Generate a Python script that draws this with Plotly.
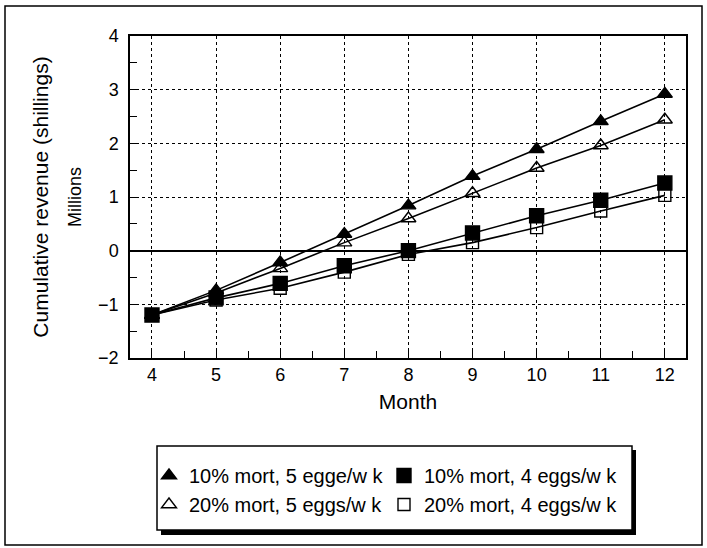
import plotly.graph_objects as go

months = [4, 5, 6, 7, 8, 9, 10, 11, 12]
mort10_5eggs = [-1.2, -0.74, -0.22, 0.31, 0.84, 1.39, 1.89, 2.41, 2.92]
mort10_4eggs = [-1.2, -0.88, -0.61, -0.28, 0.0, 0.33, 0.65, 0.94, 1.26]
mort20_5eggs = [-1.2, -0.79, -0.33, 0.15, 0.60, 1.07, 1.54, 1.96, 2.44]
mort20_4eggs = [-1.2, -0.92, -0.70, -0.40, -0.07, 0.15, 0.43, 0.74, 1.03]

names = ["10% mort, 5 egge/w k", "10% mort, 4 eggs/w k",
         "20% mort, 5 eggs/w k", "20% mort, 4 eggs/w k"]
series = [mort10_5eggs, mort10_4eggs, mort20_5eggs, mort20_4eggs]
symbols = ["triangle-up", "square", "triangle-up-open", "square-open"]
sizes = [13, 14, 13, 12]

FONT = "Liberation Sans, Arial, sans-serif"

fig = go.Figure()
for nm, ys, sym, sz in zip(names, series, symbols, sizes):
    fig.add_trace(go.Scatter(
        x=months, y=ys, name=nm, mode="lines+markers", showlegend=False,
        legendgroup=nm,
        line=dict(color="black", width=1.6),
        marker=dict(symbol=sym, size=sz, color="black",
                    line=dict(color="black", width=1.4)),
    ))
# legend entries (marker-only symbols, as in the original key)
for nm, sym, sz in zip(names, symbols, sizes):
    fig.add_trace(go.Scatter(
        x=[None], y=[None], name=nm, mode="markers", legendgroup=nm,
        marker=dict(symbol=sym, size=sz, color="black",
                    line=dict(color="black", width=1.4)),
    ))

# paper-coordinate helpers (plot area: x 130..686, y 36..358)
def px(x):
    return (x - 130) / 556.0

def py(y):
    return (358 - y) / 322.0

shapes = [
    # outer frame
    dict(type="rect", xref="paper", yref="paper",
         x0=px(5), x1=px(702), y0=py(545), y1=py(6),
         line=dict(color="black", width=1.5), layer="below"),
    # legend shadow
    dict(type="rect", xref="paper", yref="paper",
         x0=px(161), x1=px(636), y0=py(535), y1=py(450),
         fillcolor="black", line=dict(width=0), layer="below"),
    # legend box
    dict(type="rect", xref="paper", yref="paper",
         x0=px(157), x1=px(632), y0=py(530), y1=py(446),
         fillcolor="white", line=dict(color="black", width=1.5), layer="below"),
]

fig.update_layout(
    width=707, height=548,
    margin=dict(l=130, r=21, t=36, b=190, autoexpand=False),
    paper_bgcolor="white", plot_bgcolor="white",
    font=dict(family=FONT, color="black", size=18),
    showlegend=True,
    legend=dict(
        orientation="h", x=px(149), y=py(456), xanchor="left", yanchor="top",
        bgcolor="rgba(0,0,0,0)", borderwidth=0,
        entrywidth=190, entrywidthmode="pixels",
        font=dict(family=FONT, size=20, color="black"),
        itemwidth=30, tracegroupgap=0, groupclick="togglegroup",
    ),
    shapes=shapes,
    annotations=[
        dict(text="Millions", xref="paper", yref="paper",
             x=px(75), y=0.5, textangle=-90, showarrow=False,
             font=dict(family=FONT, size=18, color="black"),
             xanchor="center", yanchor="middle"),
    ],
)

fig.update_xaxes(
    range=[3.657, 12.33], tickmode="array", tickvals=months,
    ticktext=[str(m) for m in months],
    showgrid=True, gridcolor="black", griddash="dot", gridwidth=1,
    showline=True, linecolor="black", linewidth=1.5, mirror=True,
    ticks="inside", ticklen=7, tickcolor="black", tickwidth=1.2,
    minor=dict(dtick=0.5, ticks="inside", ticklen=7, tickcolor="black",
               tickwidth=1.2, showgrid=False),
    tickfont=dict(family=FONT, size=18, color="black"),
    title=dict(text="Month", font=dict(family=FONT, size=21, color="black"),
               standoff=10),
    zeroline=False,
)
fig.update_yaxes(
    range=[-2, 4], tickmode="linear", tick0=-2, dtick=1,
    showgrid=True, gridcolor="black", griddash="dot", gridwidth=1,
    zeroline=True, zerolinecolor="black", zerolinewidth=1.5,
    showline=True, linecolor="black", linewidth=1.5, mirror=True,
    ticks="inside", ticklen=7, tickcolor="black", tickwidth=1.2,
    minor=dict(dtick=0.5, ticks="inside", ticklen=7, tickcolor="black",
               tickwidth=1.2, showgrid=False),
    tickfont=dict(family=FONT, size=18, color="black"),
    ticklabelstandoff=6,
    title=dict(text="Cumulative revenue (shillings)",
               font=dict(family=FONT, size=21, color="black"), standoff=44),
)

fig.write_html("out.html")
